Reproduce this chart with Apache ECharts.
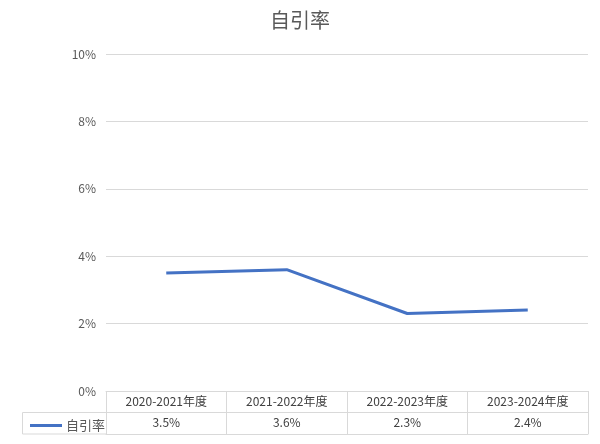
<!DOCTYPE html>
<html><head><meta charset="utf-8">
<script src="https://cdn.jsdelivr.net/npm/echarts@6/dist/echarts.min.js"></script>
<style>html,body{margin:0;padding:0;background:#fff}#c{width:600px;height:444px}</style>
</head><body><div id="c"></div>
<script>
const titleText = '自引率';
const seriesName = '自引率';
const categories = ['2020-2021年度', '2021-2022年度', '2022-2023年度', '2023-2024年度'];
const values = [3.5, 3.6, 2.3, 2.4];
const yTicks = [0, 2, 4, 6, 8, 10];

const FONT = '"Noto Sans CJK SC", "Noto Sans", sans-serif';
const GRID_L = 106, GRID_R = 12, GRID_T = 54, GRID_B = 53;
const ROW = 21.5;
const chart = echarts.init(document.getElementById('c'));
const axisBase = {
  type: 'category', data: categories, position: 'bottom', boundaryGap: true,
  axisLine: {show: true, lineStyle: {color: '#d9d9d9', width: 1}},
  splitLine: {show: false}
};
chart.setOption({
  animation: false,
  title: {text: titleText, left: 'center', top: 5,
    textStyle: {fontFamily: FONT, fontSize: 20, fontWeight: 'normal', color: '#595959'}},
  grid: {left: GRID_L, right: GRID_R, top: GRID_T, bottom: GRID_B},
  legend: {show: true, left: 25, top: 414, itemWidth: 32, itemHeight: 3, itemGap: 4,
    data: [{name: seriesName, icon: 'rect'}],
    textStyle: {fontFamily: FONT, fontSize: 13, color: '#595959', padding: [0, 0, 0, -1]}},
  xAxis: [
    Object.assign({}, axisBase, {
      axisTick: {show: true, length: ROW * 2, lineStyle: {color: '#d9d9d9'}},
      axisLabel: {margin: 4, fontFamily: FONT, fontSize: 12, color: '#404040'}
    }),
    Object.assign({}, axisBase, {
      offset: ROW,
      axisTick: {show: false},
      axisLabel: {margin: 4, fontFamily: FONT, fontSize: 12, color: '#404040',
        formatter: (v, i) => values[i].toFixed(1) + '%'}
    }),
    Object.assign({}, axisBase, {
      offset: ROW * 2,
      axisTick: {show: false},
      axisLabel: {show: false}
    })
  ],
  yAxis: {type: 'value', min: yTicks[0], max: yTicks[yTicks.length - 1], interval: yTicks[1] - yTicks[0],
    axisLine: {show: false}, axisTick: {show: false},
    axisLabel: {margin: 10, fontFamily: FONT, fontSize: 12, color: '#595959', formatter: '{value}%'},
    splitLine: {lineStyle: {color: '#d9d9d9', width: 1}}},
  graphic: [{
    type: 'polyline', silent: true,
    shape: {points: [[GRID_L, 444 - GRID_B + ROW], [22.5, 444 - GRID_B + ROW], [22.5, 444 - GRID_B + ROW * 2], [GRID_L, 444 - GRID_B + ROW * 2]]},
    style: {stroke: '#d9d9d9', fill: null, lineWidth: 1}
  }],
  series: [{name: seriesName, type: 'line', data: values, showSymbol: false, symbol: 'none',
    lineStyle: {color: '#4472C4', width: 3}, itemStyle: {color: '#4472C4'}}]
});
</script></body></html>
